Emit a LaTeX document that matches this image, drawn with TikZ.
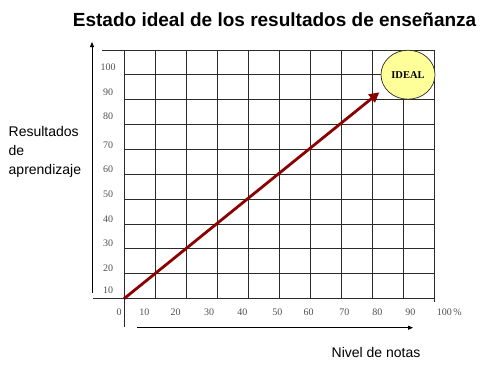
\documentclass[tikz,border=0pt]{standalone}
\usepackage{fontspec}
\setmainfont{Liberation Sans}
\newfontfamily\serifnum{Liberation Serif}
\usetikzlibrary{arrows.meta,shapes.geometric}
\definecolor{gridc}{HTML}{2A2A2A}
\definecolor{tickc}{HTML}{505050}
\definecolor{arrowred}{HTML}{8B0000}
\definecolor{idealfill}{HTML}{FFFF99}
\tikzset{
  gridline/.style={draw=gridc, line width=1bp},
  axisline/.style={draw=black, line width=0.8bp, -{Triangle[length=5bp,width=4bp]}},
  ticklabel/.style={text=tickc, font=\serifnum\fontsize{10bp}{11bp}\selectfont, inner sep=0pt, anchor=center},
  axistitle/.style={font=\fontsize{14bp}{19.3bp}\selectfont, inner sep=0pt, align=left},
  trend/.style={draw=arrowred, line width=2.8bp, -{Triangle[length=10bp,width=10bp]}},
  idealnode/.style={ellipse, draw=gridc, line width=0.7bp, fill=idealfill, minimum width=54bp, minimum height=49bp, inner sep=0pt, font=\serifnum\bfseries\fontsize{10.5bp}{11bp}\selectfont}
}
\begin{document}
\begin{tikzpicture}[x=1bp, y=-1bp]
\useasboundingbox (0,0) rectangle (488,365);
% title
\node[anchor=base west, inner sep=0pt, font=\bfseries\fontsize{19bp}{22bp}\selectfont] (title) at (72.7,26) {Estado ideal de los resultados de enseñanza};
% grid
\foreach \i in {1,...,9} {
  \draw[gridline] (124+\i*31.05,50) -- (124+\i*31.05,298.7);
}
\foreach \j in {1,...,9} {
  \draw[gridline] (124,50+\j*24.87) -- (434.5,50+\j*24.87);
}
\draw[gridline] (102,50) -- (434.5,50);
\draw[gridline] (93,298.7) -- (434.5,298.7);
\draw[gridline] (124,50) -- (124,327);
\draw[gridline] (434.5,50) -- (434.5,302);
% axis arrows
\coordinate (ybot) at (92,293);
\coordinate (ytop) at (92,42);
\draw[axisline] (ybot) -- (ytop);
\coordinate (xleft) at (137,327.7);
\coordinate (xright) at (413,327.7);
\draw[axisline] (xleft) -- (xright);
% y labels
\node[ticklabel] (y100) at (108,67.3) {100};
\node[ticklabel] (y90) at (108,92) {90};
\node[ticklabel] (y80) at (108,116.7) {80};
\node[ticklabel] (y70) at (108,145) {70};
\node[ticklabel] (y60) at (108,169.3) {60};
\node[ticklabel] (y50) at (108,194.3) {50};
\node[ticklabel] (y40) at (108,219) {40};
\node[ticklabel] (y30) at (108,243.7) {30};
\node[ticklabel] (y20) at (108,268.3) {20};
\node[ticklabel] (y10) at (108,290.7) {10};
% x labels
\node[ticklabel] (x0) at (119,312.7) {0};
\node[ticklabel] (x10) at (144.3,312.7) {10};
\node[ticklabel] (x20) at (175.7,312.7) {20};
\node[ticklabel] (x30) at (209,312.7) {30};
\node[ticklabel] (x40) at (242.3,312.7) {40};
\node[ticklabel] (x50) at (277.3,312.7) {50};
\node[ticklabel] (x60) at (308.7,312.7) {60};
\node[ticklabel] (x70) at (344.3,312.7) {70};
\node[ticklabel] (x80) at (377.3,312.7) {80};
\node[ticklabel] (x90) at (410.3,312.7) {90};
\node[ticklabel] (x100) at (449.3,312.7) {100\,\%};
% axis titles
\node[axistitle, anchor=base west] (ytitle) at (8.5,174.6) {Resultados\\de\\aprendizaje};
\node[axistitle, anchor=base west] (xtitle) at (331.5,357.7) {Nivel de notas};
% ideal
\node[idealnode] (ideal) at (408,74.7) {IDEAL};
% trend arrow
\coordinate (origin) at (124,298.7);
\coordinate (tip) at (379.3,92.3);
\draw[trend] (origin) -- (tip);
\end{tikzpicture}
\end{document}
